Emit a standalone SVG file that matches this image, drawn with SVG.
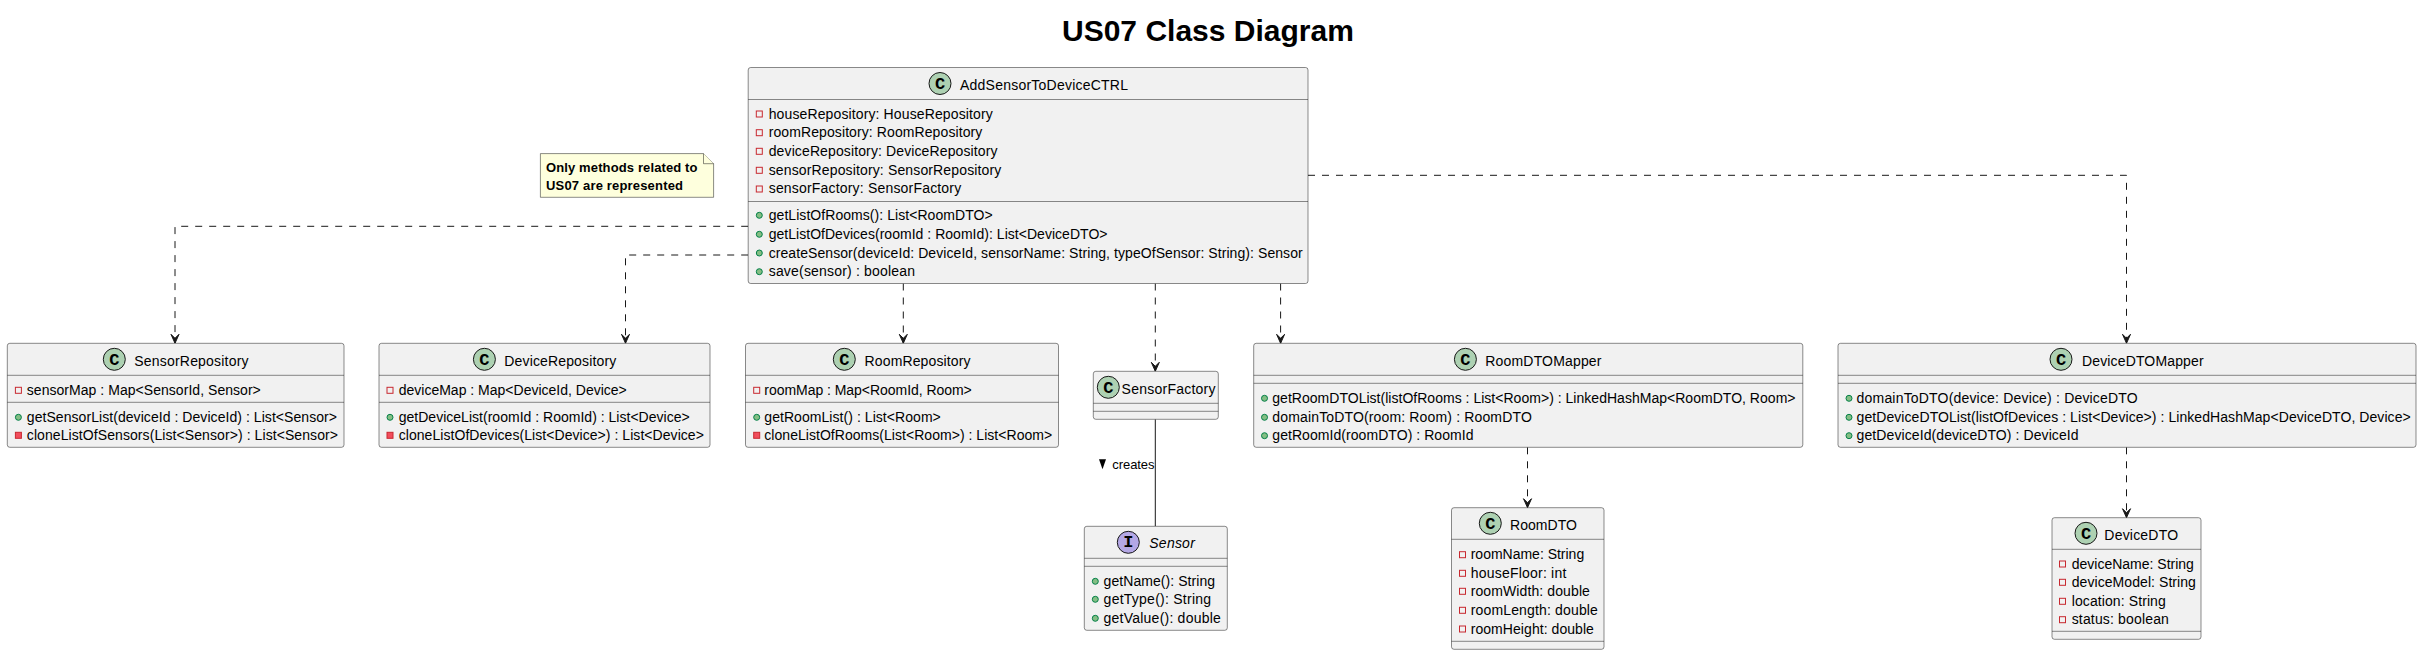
<svg xmlns="http://www.w3.org/2000/svg" width="2422" height="655" viewBox="0 0 2422 655">
<style>
text{font-family:"Liberation Sans",Arial,sans-serif;font-size:14px;fill:#000}
.title{font-size:30px;font-weight:bold}
.note{font-size:13px;font-weight:bold}
.lbl{font-size:13px}
.it{font-style:italic}
.box{fill:#F1F1F1;stroke:#181818;stroke-width:.5}
.sep{stroke:#181818;stroke-width:.5;fill:none}
.cc{fill:#ADD1B2;stroke:#181818;stroke-width:1}
.ci{fill:#B4A7E5;stroke:#181818;stroke-width:1}
.gl{font-family:"Liberation Mono",monospace;font-size:17px;font-weight:bold;text-anchor:middle}
.pub{fill:#84BE84;stroke:#038048;stroke-width:1}
.pri{fill:none;stroke:#C82930;stroke-width:1}
.prm{fill:#F24D5C;stroke:#C82930;stroke-width:1}
.dep{fill:none;stroke:#181818;stroke-width:1;stroke-dasharray:7,7;marker-end:url(#arr)}
.sol{fill:none;stroke:#181818;stroke-width:1}
.nt{fill:#FEFFDD;stroke:#181818;stroke-width:.5}
</style>
<defs>
<marker id="arr" markerUnits="userSpaceOnUse" markerWidth="10" markerHeight="11" refX="9.5" refY="5" orient="auto" overflow="visible">
<path d="M0.5,1 L9.5,5 L0.5,9 L4.5,5 Z" fill="#181818" stroke="#181818" stroke-width="1"/>
</marker>
</defs>
<text class="title" x="1062" y="41.3">US07 Class Diagram</text>
<g id="connectors">
<path class="dep" d="M748.2,226.3 H175 V343.3"/>
<path class="dep" d="M748.2,255 H625.5 V343.3"/>
<path class="dep" d="M903.3,283.5 V343.3"/>
<path class="dep" d="M1155.3,283.5 V371.3"/>
<path class="dep" d="M1280.6,283.5 V343.3"/>
<path class="dep" d="M1308,175.3 H2126.5 V343.3"/>
<path class="dep" d="M1527.5,447.3 V507.7"/>
<path class="dep" d="M2126.5,447.3 V517.7"/>
<path class="sol" d="M1155.3,419.3 V526.3"/>
<polygon points="1099,459.3 1106,459.3 1102.5,469.3" fill="#000"/>
<text class="lbl" x="1112.3" y="469" textLength="42.2">creates</text>
</g>
<g id="note">
<path class="nt" d="M540.4,153.6 H703.5 L713.6,163.7 V197.3 H540.4 Z"/>
<path class="nt" d="M703.5,153.6 V163.7 H713.6"/>
<text class="note" x="546" y="172" textLength="151.5">Only methods related to</text>
<text class="note" x="546" y="190" textLength="137">US07 are represented</text>
</g>
<g id="AddSensorToDeviceCTRL">
<rect class="box" x="748.2" y="67.5" width="559.8" height="216" rx="2.5"/>
<path class="sep" d="M748.2,99.5 H1308 M748.2,201.5 H1308"/>
<circle class="cc" cx="940" cy="83.5" r="11"/><text class="gl" x="940" y="89.3">C</text>
<text x="960" y="90" textLength="168">AddSensorToDeviceCTRL</text>
<rect class="pri" x="756.3" y="111" width="6" height="6"/><text x="768.7" y="118.7" textLength="224">houseRepository: HouseRepository</text>
<rect class="pri" x="756.3" y="129.7" width="6" height="6"/><text x="768.7" y="137.4" textLength="213.6">roomRepository: RoomRepository</text>
<rect class="pri" x="756.3" y="148.3" width="6" height="6"/><text x="768.7" y="156" textLength="228.8">deviceRepository: DeviceRepository</text>
<rect class="pri" x="756.3" y="167.3" width="6" height="6"/><text x="768.7" y="174.7" textLength="232.6">sensorRepository: SensorRepository</text>
<rect class="pri" x="756.3" y="186" width="6" height="6"/><text x="768.7" y="193.4" textLength="192.5">sensorFactory: SensorFactory</text>
<circle class="pub" cx="759.3" cy="215.3" r="3"/><text x="768.7" y="220" textLength="224">getListOfRooms(): List&lt;RoomDTO&gt;</text>
<circle class="pub" cx="759.3" cy="234.3" r="3"/><text x="768.7" y="239" textLength="338.8">getListOfDevices(roomId : RoomId): List&lt;DeviceDTO&gt;</text>
<circle class="pub" cx="759.3" cy="253" r="3"/><text x="768.7" y="257.7" textLength="534">createSensor(deviceId: DeviceId, sensorName: String, typeOfSensor: String): Sensor</text>
<circle class="pub" cx="759.3" cy="271.7" r="3"/><text x="768.7" y="276.4" textLength="146.4">save(sensor) : boolean</text>
</g>
<g id="SensorRepository">
<rect class="box" x="7.3" y="343.3" width="336.7" height="104" rx="2.5"/>
<path class="sep" d="M7.3,375.3 H344 M7.3,402.3 H344"/>
<circle class="cc" cx="114.3" cy="359.3" r="11"/><text class="gl" x="114.3" y="365.3">C</text>
<text x="134.3" y="366" textLength="114.2">SensorRepository</text>
<rect class="pri" x="15.4" y="387.3" width="6" height="6"/><text x="26.8" y="395" textLength="234">sensorMap : Map&lt;SensorId, Sensor&gt;</text>
<circle class="pub" cx="18.4" cy="417.3" r="3"/><text x="26.8" y="422" textLength="310.2">getSensorList(deviceId : DeviceId) : List&lt;Sensor&gt;</text>
<rect class="prm" x="15.4" y="432.3" width="6" height="6"/><text x="26.8" y="440" textLength="311.2">cloneListOfSensors(List&lt;Sensor&gt;) : List&lt;Sensor&gt;</text>
</g>
<g id="DeviceRepository">
<rect class="box" x="379" y="343.3" width="331" height="104" rx="2.5"/>
<path class="sep" d="M379,375.3 H710 M379,402.3 H710"/>
<circle class="cc" cx="484.4" cy="359.3" r="11"/><text class="gl" x="484.4" y="365.3">C</text>
<text x="504.3" y="366" textLength="111.9">DeviceRepository</text>
<rect class="pri" x="387" y="387.3" width="6" height="6"/><text x="398.7" y="395" textLength="228.1">deviceMap : Map&lt;DeviceId, Device&gt;</text>
<circle class="pub" cx="390" cy="417.3" r="3"/><text x="398.7" y="422" textLength="291">getDeviceList(roomId : RoomId) : List&lt;Device&gt;</text>
<rect class="prm" x="387" y="432.3" width="6" height="6"/><text x="398.7" y="440" textLength="305.2">cloneListOfDevices(List&lt;Device&gt;) : List&lt;Device&gt;</text>
</g>
<g id="RoomRepository">
<rect class="box" x="745.5" y="343.3" width="313" height="104" rx="2.5"/>
<path class="sep" d="M745.5,375.3 H1058.5 M745.5,402.3 H1058.5"/>
<circle class="cc" cx="844.3" cy="359.3" r="11"/><text class="gl" x="844.3" y="365.3">C</text>
<text x="864.6" y="366" textLength="105.9">RoomRepository</text>
<rect class="pri" x="753.7" y="387.3" width="6" height="6"/><text x="764.3" y="395" textLength="207.5">roomMap : Map&lt;RoomId, Room&gt;</text>
<circle class="pub" cx="756.7" cy="417.3" r="3"/><text x="764.3" y="422" textLength="176.5">getRoomList() : List&lt;Room&gt;</text>
<rect class="prm" x="753.7" y="432.3" width="6" height="6"/><text x="764.3" y="440" textLength="287.9">cloneListOfRooms(List&lt;Room&gt;) : List&lt;Room&gt;</text>
</g>
<g id="SensorFactory">
<rect class="box" x="1093.3" y="371.3" width="125" height="48" rx="2.5"/>
<path class="sep" d="M1093.3,403.3 H1218.3 M1093.3,411.3 H1218.3"/>
<circle class="cc" cx="1108.3" cy="387.3" r="11"/><text class="gl" x="1108.3" y="393.3">C</text>
<text x="1121.6" y="394" textLength="93.9">SensorFactory</text>
</g>
<g id="Sensor">
<rect class="box" x="1084.3" y="526.3" width="143" height="104" rx="2.5"/>
<path class="sep" d="M1084.3,558.3 H1227.3 M1084.3,566.3 H1227.3"/>
<circle class="ci" cx="1128.3" cy="542.3" r="11"/><text class="gl" x="1128.3" y="547.3">I</text>
<text class="it" x="1149.3" y="548" textLength="45.5">Sensor</text>
<circle class="pub" cx="1095.3" cy="581.3" r="3"/><text x="1103.6" y="586" textLength="111.5">getName(): String</text>
<circle class="pub" cx="1095.3" cy="599.3" r="3"/><text x="1103.6" y="604" textLength="107.5">getType(): String</text>
<circle class="pub" cx="1095.3" cy="618.3" r="3"/><text x="1103.6" y="622.7" textLength="117.2">getValue(): double</text>
</g>
<g id="RoomDTOMapper">
<rect class="box" x="1253.7" y="343.3" width="549.1" height="104" rx="2.5"/>
<path class="sep" d="M1253.7,375.3 H1802.8 M1253.7,383.3 H1802.8"/>
<circle class="cc" cx="1465.4" cy="359.3" r="11"/><text class="gl" x="1465.4" y="365.3">C</text>
<text x="1485.3" y="366" textLength="116.2">RoomDTOMapper</text>
<circle class="pub" cx="1264.5" cy="398.3" r="3"/><text x="1272.3" y="403" textLength="523.2">getRoomDTOList(listOfRooms : List&lt;Room&gt;) : LinkedHashMap&lt;RoomDTO, Room&gt;</text>
<circle class="pub" cx="1264.5" cy="417.3" r="3"/><text x="1272.3" y="421.7" textLength="259.5">domainToDTO(room: Room) : RoomDTO</text>
<circle class="pub" cx="1264.5" cy="435.7" r="3"/><text x="1272.3" y="440.4" textLength="201.2">getRoomId(roomDTO) : RoomId</text>
</g>
<g id="DeviceDTOMapper">
<rect class="box" x="1838" y="343.3" width="578" height="104" rx="2.5"/>
<path class="sep" d="M1838,375.3 H2416 M1838,383.3 H2416"/>
<circle class="cc" cx="2061" cy="359.3" r="11"/><text class="gl" x="2061" y="365.3">C</text>
<text x="2082" y="366" textLength="121.6">DeviceDTOMapper</text>
<circle class="pub" cx="1849" cy="398.3" r="3"/><text x="1856.6" y="403" textLength="281.1">domainToDTO(device: Device) : DeviceDTO</text>
<circle class="pub" cx="1849" cy="417.3" r="3"/><text x="1856.6" y="421.7" textLength="554.1">getDeviceDTOList(listOfDevices : List&lt;Device&gt;) : LinkedHashMap&lt;DeviceDTO, Device&gt;</text>
<circle class="pub" cx="1849" cy="435.7" r="3"/><text x="1856.6" y="440.4" textLength="222">getDeviceId(deviceDTO) : DeviceId</text>
</g>
<g id="RoomDTO">
<rect class="box" x="1451.5" y="507.7" width="152.5" height="141.6" rx="2.5"/>
<path class="sep" d="M1451.5,539.3 H1604 M1451.5,641.3 H1604"/>
<circle class="cc" cx="1490.3" cy="523.3" r="11"/><text class="gl" x="1490.3" y="529.3">C</text>
<text x="1510" y="530" textLength="67">RoomDTO</text>
<rect class="pri" x="1459.5" y="551.7" width="6" height="6"/><text x="1470.7" y="559.4" textLength="113.5">roomName: String</text>
<rect class="pri" x="1459.5" y="570.3" width="6" height="6"/><text x="1470.7" y="578" textLength="95.6">houseFloor: int</text>
<rect class="pri" x="1459.5" y="588.3" width="6" height="6"/><text x="1470.7" y="596" textLength="119.2">roomWidth: double</text>
<rect class="pri" x="1459.5" y="607.3" width="6" height="6"/><text x="1470.7" y="615" textLength="127.2">roomLength: double</text>
<rect class="pri" x="1459.5" y="626" width="6" height="6"/><text x="1470.7" y="633.7" textLength="123.2">roomHeight: double</text>
</g>
<g id="DeviceDTO">
<rect class="box" x="2052" y="517.7" width="149" height="121.6" rx="2.5"/>
<path class="sep" d="M2052,549.3 H2201 M2052,631.3 H2201"/>
<circle class="cc" cx="2086" cy="533.3" r="11"/><text class="gl" x="2086" y="539.3">C</text>
<text x="2104.3" y="540" textLength="73.8">DeviceDTO</text>
<rect class="pri" x="2059.5" y="561" width="6" height="6"/><text x="2071.7" y="568.7" textLength="122.2">deviceName: String</text>
<rect class="pri" x="2059.5" y="579.3" width="6" height="6"/><text x="2071.7" y="587" textLength="124.2">deviceModel: String</text>
<rect class="pri" x="2059.5" y="598.3" width="6" height="6"/><text x="2071.7" y="606" textLength="94.1">location: String</text>
<rect class="pri" x="2059.5" y="616.7" width="6" height="6"/><text x="2071.7" y="624.4" textLength="97.2">status: boolean</text>
</g>
</svg>
